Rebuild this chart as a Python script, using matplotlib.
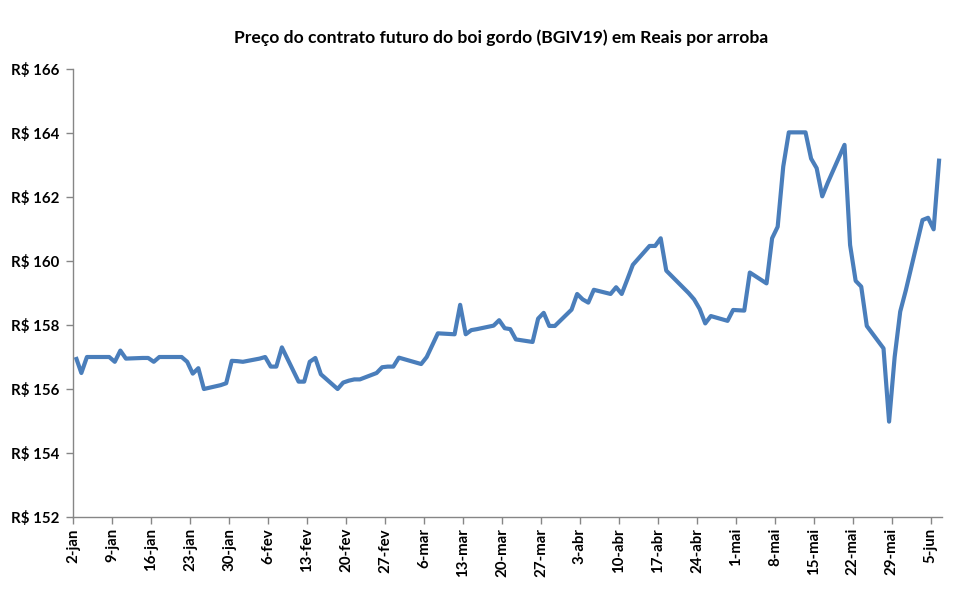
import matplotlib
matplotlib.use("Agg")
import matplotlib.pyplot as plt
import numpy as np
import pandas as pd

title = "Preço do contrato futuro do boi gordo (BGIV19) em Reais por arroba"

dates = [
    "2019-01-02", "2019-01-03", "2019-01-04", "2019-01-07", "2019-01-08", "2019-01-09",
    "2019-01-10", "2019-01-11", "2019-01-14", "2019-01-15", "2019-01-16", "2019-01-17",
    "2019-01-18", "2019-01-21", "2019-01-22", "2019-01-23", "2019-01-24", "2019-01-25",
    "2019-01-28", "2019-01-29", "2019-01-30", "2019-01-31", "2019-02-01", "2019-02-04",
    "2019-02-05", "2019-02-06", "2019-02-07", "2019-02-08", "2019-02-11", "2019-02-12",
    "2019-02-13", "2019-02-14", "2019-02-15", "2019-02-18", "2019-02-19", "2019-02-20",
    "2019-02-21", "2019-02-22", "2019-02-25", "2019-02-26", "2019-02-27", "2019-02-28",
    "2019-03-01", "2019-03-05", "2019-03-06", "2019-03-07", "2019-03-08", "2019-03-11",
    "2019-03-12", "2019-03-13", "2019-03-14", "2019-03-15", "2019-03-18", "2019-03-19",
    "2019-03-20", "2019-03-21", "2019-03-22", "2019-03-25", "2019-03-26", "2019-03-27",
    "2019-03-28", "2019-03-29", "2019-04-01", "2019-04-02", "2019-04-03", "2019-04-04",
    "2019-04-05", "2019-04-08", "2019-04-09", "2019-04-10", "2019-04-11", "2019-04-12",
    "2019-04-15", "2019-04-16", "2019-04-17", "2019-04-18", "2019-04-22", "2019-04-23",
    "2019-04-24", "2019-04-25", "2019-04-26", "2019-04-29", "2019-04-30", "2019-05-02",
    "2019-05-03", "2019-05-06", "2019-05-07", "2019-05-08", "2019-05-09", "2019-05-10",
    "2019-05-13", "2019-05-14", "2019-05-15", "2019-05-16", "2019-05-17", "2019-05-20",
    "2019-05-21", "2019-05-22", "2019-05-23", "2019-05-24", "2019-05-27", "2019-05-28",
    "2019-05-29", "2019-05-30", "2019-05-31", "2019-06-03", "2019-06-04", "2019-06-05",
    "2019-06-06",
]

prices = [
    157.00, 156.50, 157.00, 157.00, 157.00, 156.85,
    157.20, 156.95, 156.97, 156.97, 156.85, 157.00,
    157.00, 157.00, 156.85, 156.48, 156.65, 156.00,
    156.12, 156.18, 156.88, 156.87, 156.85, 156.95,
    157.00, 156.70, 156.70, 157.30, 156.23, 156.23,
    156.85, 156.97, 156.46, 156.00, 156.20, 156.26,
    156.30, 156.30, 156.50, 156.68, 156.70, 156.70,
    156.98, 156.78, 157.00, 157.37, 157.74, 157.71,
    158.63, 157.71, 157.84, 157.87, 157.98, 158.15,
    157.90, 157.87, 157.55, 157.47, 158.20, 158.38,
    157.97, 157.97, 158.48, 158.97, 158.80, 158.70,
    159.10, 158.97, 159.18, 158.97, 159.42, 159.88,
    160.47, 160.47, 160.71, 159.70, 159.00, 158.80,
    158.50, 158.05, 158.28, 158.13, 158.47, 158.45,
    159.64, 159.30, 160.71, 161.07, 162.95, 164.02,
    164.02, 163.20, 162.90, 162.02, 162.45, 163.63,
    160.50, 159.38, 159.20, 157.97, 157.27, 154.98,
    157.00, 158.42, 159.08, 161.28, 161.35, 160.99,
    163.20,
]

tick_dates = ["2019-01-02", "2019-01-09", "2019-01-16", "2019-01-23", "2019-01-30",
              "2019-02-06", "2019-02-13", "2019-02-20", "2019-02-27", "2019-03-06",
              "2019-03-13", "2019-03-20", "2019-03-27", "2019-04-03", "2019-04-10",
              "2019-04-17", "2019-04-24", "2019-05-01", "2019-05-08", "2019-05-15",
              "2019-05-22", "2019-05-29", "2019-06-05"]
tick_labels = ["2-jan", "9-jan", "16-jan", "23-jan", "30-jan", "6-fev", "13-fev",
               "20-fev", "27-fev", "6-mar", "13-mar", "20-mar", "27-mar", "3-abr",
               "10-abr", "17-abr", "24-abr", "1-mai", "8-mai", "15-mai", "22-mai",
               "29-mai", "5-jun"]

y_ticks = [152, 154, 156, 158, 160, 162, 164, 166]

plt.rcParams['font.family'] = ['Lato', 'DejaVu Sans']

fig = plt.figure(figsize=(9.61, 5.94), dpi=100)
ax = fig.add_axes([73/961, 1-517/594, (942-73)/961, (517-69)/594])

x = pd.to_datetime(dates) + pd.Timedelta(hours=12)
ax.plot(x, prices, color="#4A7EBB", linewidth=3.0, solid_joinstyle="round",
        solid_capstyle="butt")

ax.set_xlim(pd.Timestamp("2019-01-02"), pd.Timestamp("2019-06-07"))
ax.set_ylim(152, 166)
ax.set_yticks(y_ticks)
ax.set_yticklabels([f"R$ {v}" for v in y_ticks], fontsize=10.8, fontweight="bold")
ax.set_xticks(pd.to_datetime(tick_dates))
ax.set_xticklabels(tick_labels, rotation=90, fontsize=10.8, fontweight="bold")

for s in ["top", "right"]:
    ax.spines[s].set_visible(False)
for s in ["left", "bottom"]:
    ax.spines[s].set_color("#868686")
    ax.spines[s].set_linewidth(1.0)
ax.tick_params(axis="both", direction="out", length=5, width=1.0, color="#868686",
               labelcolor="black")
ax.tick_params(axis="y", pad=5)
ax.tick_params(axis="x", pad=3)

fig.text(501/961, 1-38/594, title, ha="center", va="center", fontsize=12.6,
         fontweight="bold")

fig.savefig("out.png", dpi=100)
